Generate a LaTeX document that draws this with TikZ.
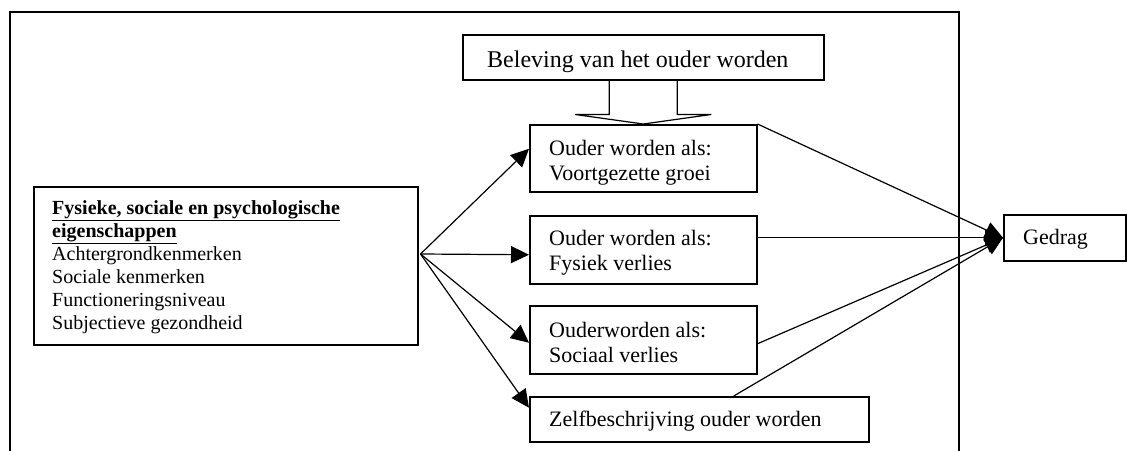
\documentclass[tikz,border=0pt]{standalone}
\usepackage{fontspec}
\setmainfont{Liberation Serif}
\usetikzlibrary{arrows.meta,calc}
\begin{document}
\begin{tikzpicture}[x=1pt,y=-1pt,
  box/.style={draw,line width=1.5pt,rectangle,inner sep=0pt,anchor=north west},
  txt/.style={anchor=base west,inner sep=0pt},
  conn/.style={line width=1.2pt,-{Triangle[length=18pt,width=17pt]}},
  plain/.style={line width=1.2pt},
  frame/.style={line width=1.5pt}
]
\useasboundingbox (0,0) rectangle (1127,450);
\fill[white] (0,0) rectangle (1127,450);
\draw[frame] (10,452) -- (10,12) -- (959,12) -- (959,452);

% boxes
\node[box,minimum width=361pt,minimum height=45pt] (bel) at (462,34) {};
\node[txt] (belt) at (487,67) {\fontsize{24}{28}\selectfont Beleving van het ouder worden};

\node[box,minimum width=384pt,minimum height=158pt] (eig) at (33,186) {};
\node[txt] (eigt) at (52,214) {\fontsize{20}{23}\selectfont\parbox[t]{360pt}{%
  \textbf{\underline{Fysieke, sociale en psychologische}}\\
  \textbf{\underline{eigenschappen}}\\
  Achtergrondkenmerken\\
  Sociale kenmerken\\
  Functioneringsniveau\\
  Subjectieve gezondheid}};

\node[box,minimum width=227pt,minimum height=67pt] (o1) at (529,124) {};
\node[txt] (o1t) at (549,155) {\fontsize{22}{25}\selectfont\parbox[t]{200pt}{Ouder worden als:\\Voortgezette groei}};

\node[box,minimum width=227pt,minimum height=68pt] (fy) at (529,215) {};
\node[txt] (fyt) at (549,245) {\fontsize{22}{25}\selectfont\parbox[t]{200pt}{Ouder worden als:\\Fysiek verlies}};

\node[box,minimum width=227pt,minimum height=68pt] (so) at (529,305) {};
\node[txt] (sot) at (549,337) {\fontsize{22}{25}\selectfont\parbox[t]{200pt}{Ouderworden als:\\Sociaal verlies}};

\node[box,minimum width=339pt,minimum height=45pt] (ze) at (529,396) {};
\node[txt] (zet) at (549,426) {\fontsize{22}{25}\selectfont Zelfbeschrijving ouder worden};

\node[box,minimum width=122pt,minimum height=46pt] (ged) at (1003,214) {};
\node[txt] (gedt) at (1023,244) {\fontsize{22}{25}\selectfont Gedrag};

% hollow block arrow
\draw[plain] ([xshift=-34pt]bel.south) -- ++(0,34) -- ++(-34,0) -- (o1.north)
  -- ($([xshift=34pt]bel.south)+(34,34)$) -- ++(-34,0) -- ([xshift=34pt]bel.south);

% left connectors
\coordinate (src) at ($(eig.north east)+(2,68)$);
\draw[conn] (src) -- ([yshift=9.5pt]o1.west);
\draw[conn] (src) -- ([yshift=-5pt]fy.west);
\draw[conn] (src) -- ([yshift=-3pt]so.west);
\draw[conn] (src) -- ([yshift=11.5pt]ze.west);

% right connectors
\draw[conn] (o1.north east) -- (ged.west);
\draw[conn] ([yshift=12pt]fy.east) -- (ged.west);
\draw[conn] ([yshift=-4pt]so.east) -- (ged.west);
\draw[conn] ([xshift=34.5pt]ze.north) -- (ged.west);
\end{tikzpicture}
\end{document}
